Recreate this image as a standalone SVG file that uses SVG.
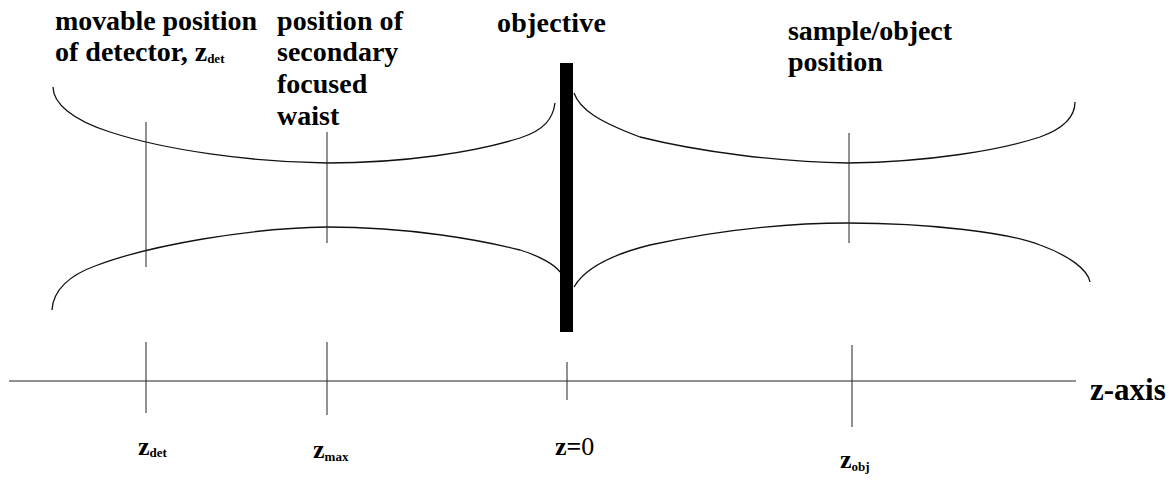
<svg xmlns="http://www.w3.org/2000/svg" width="1174" height="480" viewBox="0 0 1174 480">
<style>
text{font-family:"Liberation Serif",serif}
.lbl{font-weight:bold;fill:#000;font-size:28px}
.ax{font-weight:bold;fill:#000;font-size:26px}
.sub{font-size:13px}
.beam{fill:none;stroke:#111;stroke-width:1.3}
.thin{fill:none;stroke:#222;stroke-width:1}
</style>
<rect width="1174" height="480" fill="#fff"/>
<g id="beam">
<path class="beam" d="M53,87 C53,103 72,120 110,132 C165,150 250,162 327,163 C405,163 475,152 520,138 C545,130 553,118 555,103"/>
<path class="beam" d="M52,310 C53,290 70,275 95,266 C150,245 250,228 327,227 C410,227 480,240 520,250 C540,256 555,265 560,272"/>
<path class="beam" d="M574,93 C580,110 600,122 640,137 C700,152 780,162 848,163 C930,162 1000,150 1040,137 C1065,128 1075,115 1075,102"/>
<path class="beam" d="M574,287 C585,268 610,255 650,245 C720,230 790,223 848,223 C930,223 1010,233 1040,245 C1070,256 1088,270 1090,282"/>
</g>
<g id="objective">
<rect x="560" y="63" width="13" height="269" fill="#000"/>
<text class="lbl" x="497" y="32" textLength="109" font-family="Liberation Serif">objective</text>
</g>
<g id="detector">
<line class="thin" x1="146" y1="122" x2="146" y2="267"/>
<text class="lbl" x="55" y="30" textLength="202" font-family="Liberation Serif">movable position</text>
<text class="lbl" x="55" y="61" font-family="Liberation Serif">of detector, z<tspan class="sub" dy="2">det</tspan></text>
</g>
<g id="waist">
<line class="thin" x1="327" y1="132" x2="327" y2="243"/>
<text class="lbl" x="277" y="30" textLength="126" font-family="Liberation Serif">position of</text>
<text class="lbl" x="277" y="61" font-family="Liberation Serif">secondary</text>
<text class="lbl" x="277" y="93" font-family="Liberation Serif">focused</text>
<text class="lbl" x="277" y="125" font-family="Liberation Serif">waist</text>
</g>
<g id="sample">
<line class="thin" x1="849" y1="133" x2="849" y2="243"/>
<text class="lbl" x="788" y="40" textLength="164" font-family="Liberation Serif">sample/object</text>
<text class="lbl" x="788" y="71" font-family="Liberation Serif">position</text>
</g>
<g id="connectors">
<line class="thin" x1="9" y1="381" x2="1076" y2="381"/>
<line class="thin" x1="146" y1="342" x2="146" y2="413"/>
<line class="thin" x1="327" y1="342" x2="327" y2="415"/>
<line class="thin" x1="567" y1="362" x2="567" y2="400"/>
<line class="thin" x1="852" y1="345" x2="852" y2="427"/>
</g>
<g id="axis-labels">
<text class="ax" x="138" y="455" font-family="Liberation Serif">z<tspan class="sub" dy="2">det</tspan></text>
<text class="ax" x="313" y="458" font-family="Liberation Serif">z<tspan class="sub" dy="3">max</tspan></text>
<text class="ax" x="555" y="455" font-family="Liberation Serif">z=<tspan font-weight="normal">0</tspan></text>
<text class="ax" x="840" y="468" font-family="Liberation Serif">z<tspan class="sub" dy="3">obj</tspan></text>
<text class="ax" x="1090" y="400" font-family="Liberation Serif" style="font-size:31px">z-axis</text>
</g>
</svg>
